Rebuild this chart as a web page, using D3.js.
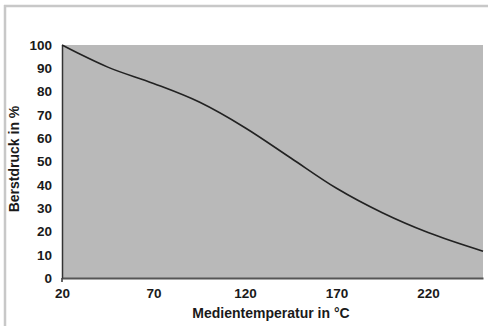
<!DOCTYPE html>
<html><head><meta charset="utf-8">
<script src="https://cdn.jsdelivr.net/npm/d3@7"></script>
<style>body{margin:0;background:#fff}svg{display:block}text{font-family:"Liberation Sans",Arial,sans-serif;font-weight:bold;fill:#1a1a1a}</style>
</head><body>
<script>
const temps = [20, 30, 45, 70, 95, 120, 145, 170, 195, 220, 250];
const pressure = [100, 96, 90.5, 83.5, 75.5, 64.5, 51.5, 38.5, 28, 19.5, 11.5];
const xTicks = [20, 70, 120, 170, 220];
const yTicks = [0, 10, 20, 30, 40, 50, 60, 70, 80, 90, 100];
const xTitle = "Medientemperatur in °C";
const yTitle = "Berstdruck in %";

const W = 488, H = 326;
const svg = d3.select("body").append("svg").attr("width", W).attr("height", H);
// frame
svg.append("line").attr("x1",4).attr("x2",W).attr("y1",6).attr("y2",6).attr("stroke","#c8c8c8").attr("stroke-width",2.5);
svg.append("line").attr("x1",5).attr("x2",5).attr("y1",5).attr("y2",H).attr("stroke","#c8c8c8").attr("stroke-width",2.5);

const x = d3.scaleLinear().domain([20, 250]).range([62, 483]);
const y = d3.scaleLinear().domain([0, 100]).range([278, 45]);

svg.append("rect").attr("x", x(20)).attr("y", y(100)).attr("width", x(250)-x(20)).attr("height", y(0)-y(100)).attr("fill", "#b9b9b9");

// axes
const gx = svg.append("g").attr("transform", `translate(0,${y(0)})`)
  .call(d3.axisBottom(x).tickValues(xTicks).tickSize(0).tickPadding(10));
gx.select(".domain").attr("stroke","#555").attr("stroke-width",2);
gx.selectAll("text").attr("font-size", 13.5).style("font-weight","bold").attr("fill","#1a1a1a");

const gy = svg.append("g").attr("transform", `translate(${x(20)},0)`)
  .call(d3.axisLeft(y).tickValues(yTicks).tickSize(0).tickPadding(10));
gy.select(".domain").attr("stroke","#333").attr("stroke-width",1.5);
gy.selectAll("text").attr("font-size", 13.5).style("font-weight","bold").attr("fill","#1a1a1a");
svg.append("line").attr("x1",x(20)).attr("x2",x(20)).attr("y1",y(0)).attr("y2",y(0)+4).attr("stroke","#333").attr("stroke-width",1.5);

const line = d3.line().x((d,i)=>x(temps[i])).y(d=>y(d)).curve(d3.curveMonotoneX);
svg.append("path").attr("d", line(pressure)).attr("fill","none").attr("stroke","#222").attr("stroke-width",1.6);

svg.append("text").attr("x", 271).attr("y", 318).attr("text-anchor","middle").attr("font-size",14).text(xTitle);
svg.append("text").attr("transform", `translate(19,${159}) rotate(-90)`).attr("text-anchor","middle").attr("font-size",14).text(yTitle);
</script>
</body></html>
